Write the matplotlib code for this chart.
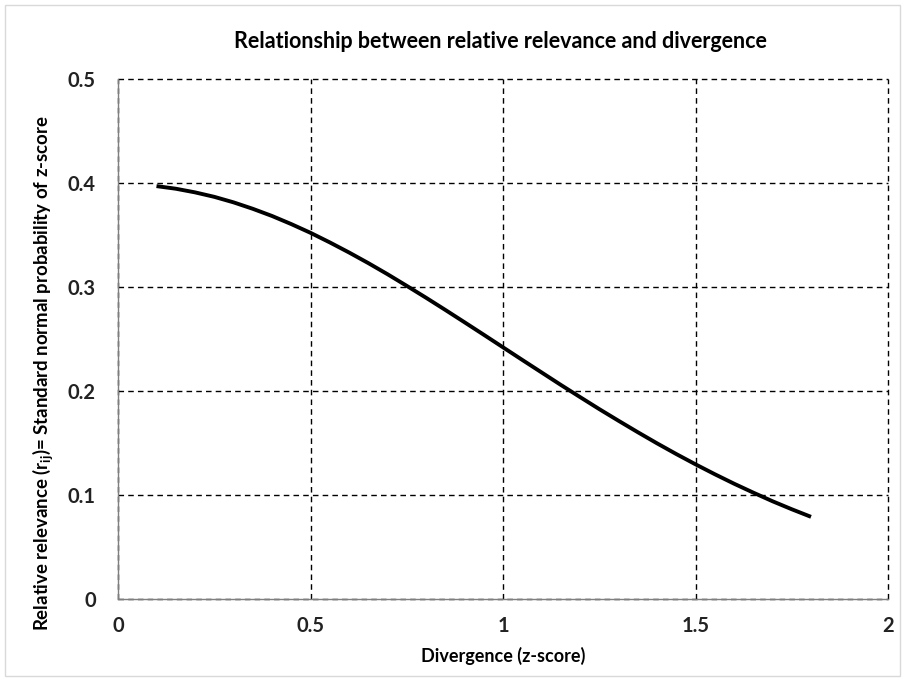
import matplotlib
matplotlib.use("Agg")
import matplotlib.pyplot as plt
from matplotlib.patches import Rectangle

z_score = [0.1, 0.15, 0.2, 0.25, 0.3, 0.35, 0.4, 0.45, 0.5, 0.55, 0.6, 0.65,
           0.7, 0.75, 0.8, 0.85, 0.9, 0.95, 1.0, 1.05, 1.1, 1.15, 1.2, 1.25,
           1.3, 1.35, 1.4, 1.45, 1.5, 1.55, 1.6, 1.65, 1.7, 1.75, 1.8]
relevance = [0.3970, 0.3945, 0.3910, 0.3867, 0.3814, 0.3752, 0.3683, 0.3605,
             0.3521, 0.3429, 0.3332, 0.3230, 0.3123, 0.3011, 0.2897, 0.2780,
             0.2661, 0.2541, 0.2420, 0.2299, 0.2179, 0.2059, 0.1942, 0.1826,
             0.1714, 0.1604, 0.1497, 0.1394, 0.1295, 0.1200, 0.1109, 0.1023,
             0.0940, 0.0863, 0.0790]
x_ticks = [0, 0.5, 1, 1.5, 2]
x_tick_labels = ["0", "0.5", "1", "1.5", "2"]
y_ticks = [0, 0.1, 0.2, 0.3, 0.4, 0.5]
y_tick_labels = ["0", "0.1", "0.2", "0.3", "0.4", "0.5"]

plt.rcParams['font.family'] = ['Lato', 'DejaVu Sans']
plt.rcParams['mathtext.fontset'] = 'custom'
plt.rcParams['mathtext.rm'] = 'Lato'
plt.rcParams['mathtext.bf'] = 'Lato:bold'
plt.rcParams['mathtext.it'] = 'Lato:italic'

W, H = 905, 684
fig = plt.figure(figsize=(W / 100, H / 100), dpi=100)
fig.patch.set_facecolor('white')
fig.patches.append(Rectangle((5 / W, 8 / H), (W - 10) / W, (H - 13) / H,
                             transform=fig.transFigure, fill=False,
                             edgecolor='#d9d9d9', linewidth=1))

left, right, top, bottom = 118, 888, 79, 599
ax = fig.add_axes([left / W, 1 - bottom / H, (right - left) / W, (bottom - top) / H])

ax.plot(z_score, relevance, color='black', linewidth=2.8, solid_capstyle='butt')

ax.set_xlim(0, 2)
ax.set_ylim(0, 0.5)
ax.set_xticks(x_ticks)
ax.set_xticklabels(x_tick_labels)
ax.set_yticks(y_ticks)
ax.set_yticklabels(y_tick_labels)
ax.grid(True, color='black', linestyle=(0, (4, 3)), linewidth=1)
ax.set_axisbelow(True)
for gl in ax.get_xgridlines() + ax.get_ygridlines():
    gl.set_clip_on(False)
for s in ['top', 'right']:
    ax.spines[s].set_visible(False)
for s in ['left', 'bottom']:
    ax.spines[s].set_color('#7f7f7f')
    ax.spines[s].set_linewidth(1)
ax.tick_params(length=0, labelsize=14.5)
for lab in ax.get_xticklabels() + ax.get_yticklabels():
    lab.set_fontweight('bold')
    lab.set_color('#222222')
ax.tick_params(axis='x', pad=12)
ax.tick_params(axis='y', pad=16)

fig.text(500 / W, 1 - 42 / H, "Relationship between relative relevance and divergence",
         fontsize=15.5, fontweight='bold', ha='center', va='center')
ax.set_xlabel("Divergence (z-score)", fontsize=13, fontweight='bold', labelpad=8)
fig.text(43 / W, 1 - 373 / H,
         r"Relative relevance ($\mathbf{r_{ij}}$)= Standard normal probability of z-score",
         fontsize=13.4, fontweight='bold', rotation=90, ha='center', va='center')

fig.savefig("out.png", dpi=100)
